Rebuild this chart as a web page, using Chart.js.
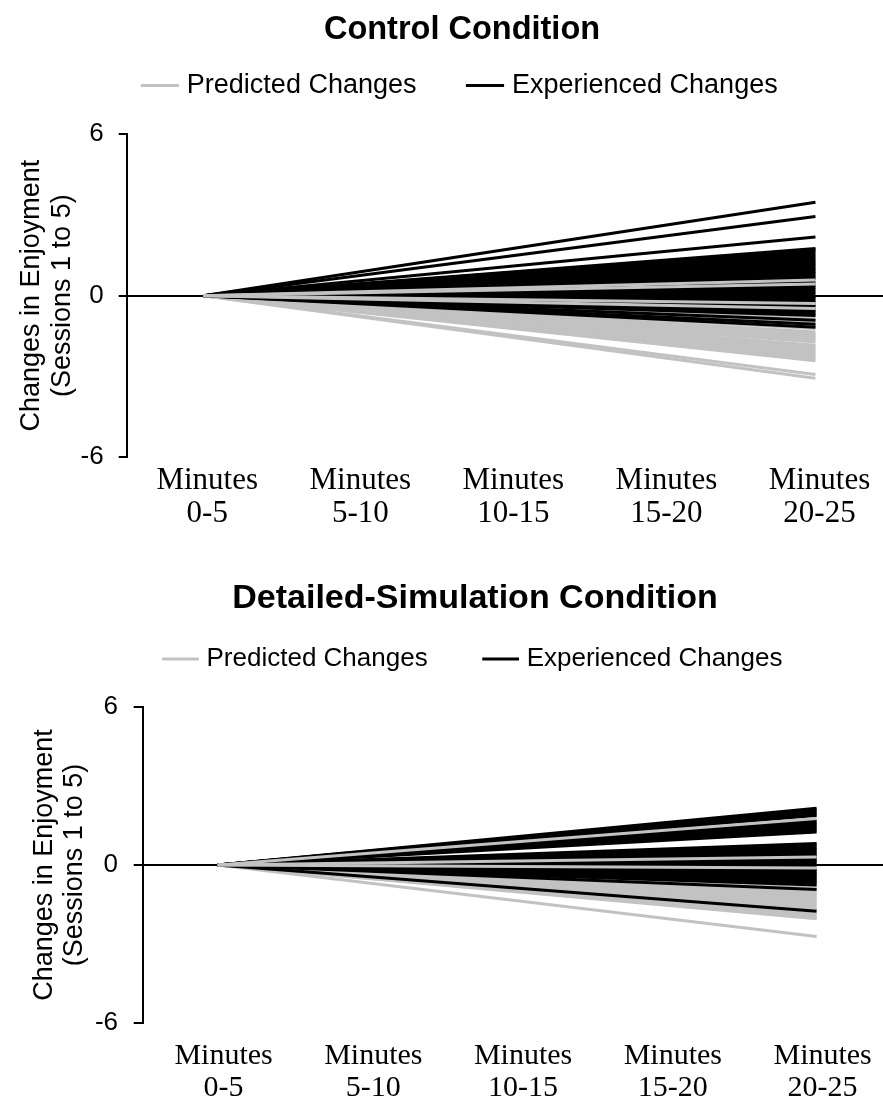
<!DOCTYPE html>
<html><head><meta charset="utf-8">
<script src="https://cdn.jsdelivr.net/npm/chart.js@4.4.0/dist/chart.umd.min.js"></script>
<style>
html,body{margin:0;padding:0;background:#fff;overflow:hidden;width:883px;height:1104px;position:relative;}
canvas{position:absolute;left:0;}
#c1{top:0;} #c2{top:560px;}
</style></head><body>
<canvas id="c1" width="924" height="555"></canvas>
<canvas id="c2" width="950" height="544"></canvas>
<script>
// ---- data ----
const timeCategories = [['Minutes','0-5'],['Minutes','5-10'],['Minutes','10-15'],['Minutes','15-20'],['Minutes','20-25']];
const yTickValues = [-6, 0, 6];
const startChange = 0; // every line starts at 0 at "Minutes 0-5"

// values at "Minutes 20-25"
const controlExperienced = [3.47, 2.94, 2.18, 1.75, 1.70, 1.63, 1.55, 1.47, 1.40, 1.32, 1.25, 1.18, 1.11, 1.04, 0.97, 0.90, 0.83, 0.76, 0.69, 0.63, 0.50, 0.38, 0.30, 0.22, 0.14, 0.06, -0.03, -0.10, -0.17, -0.24, -0.35, -0.42, -0.54, -0.61, -0.68, -0.74, -0.91, -1.06, -1.17];
const controlPredicted = [0.58, 0.43, -0.29, -0.48, -0.80, -0.86, -0.93, -1.00, -1.08, -1.15, -1.22, -1.35, -1.42, -1.50, -1.57, -1.64, -1.72, -1.84, -1.91, -1.98, -2.06, -2.13, -2.21, -2.28, -2.36, -2.42, -2.93, -3.07];

const simulationExperienced = [2.16, 2.09, 2.02, 1.95, 1.88, 1.68, 1.61, 1.54, 1.47, 1.40, 1.33, 1.26, 0.82, 0.75, 0.68, 0.61, 0.54, 0.47, 0.40, 0.33, 0.26, 0.19, 0.12, 0.05, -0.02, -0.18, -0.25, -0.32, -0.39, -0.46, -0.53, -0.60, -0.67, -0.76, -0.93, -1.76];
const simulationPredicted = [1.77, 0.30, -0.11, -0.72, -0.80, -0.86, -1.03, -1.10, -1.17, -1.24, -1.31, -1.38, -1.45, -1.52, -1.60, -1.67, -1.86, -1.93, -2.00, -2.05, -2.72];

// ---- styles ----
const BLACK = '#000000';
const GRAY = '#c2c2c2';
Chart.defaults.font.family = "'Liberation Sans', Arial, sans-serif";
Chart.defaults.color = '#000';

const legendGap = {
  id: 'legendGap',
  beforeLayout(chart) {
    const lg = chart.legend;
    if (lg && !lg._gapPatched) {
      const orig = lg.fit;
      lg.fit = function () { orig.call(this); this.height += (chart.options.plugins.legendGap.gap || 0); };
      lg._gapPatched = true;
    }
  }
};

function lineData(end) { return [startChange, null, null, null, end]; }

function buildDatasets(pred, exp) {
  const common = { borderWidth: 3, pointRadius: 0, pointHoverRadius: 0, spanGaps: true, tension: 0, fill: false, borderCapStyle: 'butt' };
  const ds = [];
  exp.forEach(v => ds.push(Object.assign({ data: lineData(v), borderColor: BLACK, order: 1 }, common)));
  pred.forEach(v => ds.push(Object.assign({ data: lineData(v), borderColor: GRAY, order: v > -0.7 ? 0 : 2 }, common)));
  return ds;
}

function makeChart(id, pred, exp, p) {
  return new Chart(document.getElementById(id), {
    type: 'line',
    data: { labels: timeCategories, datasets: buildDatasets(pred, exp) },
    plugins: [legendGap],
    options: {
      responsive: false, animation: false, devicePixelRatio: 1,
      events: [],
      layout: { padding: { left: 0, right: 0, top: 0, bottom: 0 } },
      plugins: {
        legendGap: { gap: p.legendGap },
        title: { display: true, text: p.title, font: { size: p.titleSize, weight: 'bold', lineHeight: 1 }, color: '#000', padding: { top: p.titlePadTop, bottom: p.titlePadBottom } },
        legend: {
          display: true, position: 'top',
          labels: {
            usePointStyle: true, pointStyle: 'line', boxHeight: p.legendFont, padding: p.legendPad, color: '#000', font: { size: p.legendFont },
            generateLabels: () => [
              { text: 'Predicted Changes', fillStyle: GRAY, strokeStyle: GRAY, lineWidth: 3, pointStyle: 'line', hidden: false, datasetIndex: 0 },
              { text: 'Experienced Changes', fillStyle: BLACK, strokeStyle: BLACK, lineWidth: 3, pointStyle: 'line', hidden: false, datasetIndex: 1 }
            ]
          }
        },
        tooltip: { enabled: false }
      },
      scales: {
        x: {
          type: 'category', offset: true,
          grid: { display: false, drawTicks: false },
          border: { display: false },
          ticks: { font: { family: "'Liberation Serif', 'Times New Roman', serif", size: p.xFont, lineHeight: 1.07 }, color: '#000', padding: p.xPad, labelOffset: p.labelOffset, maxRotation: 0, autoSkip: false },
          afterFit: s => { s.height = p.xHeight; }
        },
        y: {
          min: -6, max: 6,
          afterBuildTicks: s => { s.ticks = yTickValues.map(v => ({ value: v })); },
          grid: {
            drawOnChartArea: true, drawTicks: true, tickLength: p.tickLen, lineWidth: 2,
            color: c => (c.tick && c.tick.value === 0) ? BLACK : 'rgba(0,0,0,0)',
            tickColor: BLACK
          },
          border: { display: true, color: BLACK, width: 2 },
          ticks: { font: { size: 26 }, color: '#000', padding: p.yTickPad },
          title: { display: true, text: ['Changes in Enjoyment', '(Sessions 1 to 5)'], font: { size: 27, lineHeight: p.yTitleLH }, color: '#000', padding: { top: p.yTitlePad, bottom: 0 } },
          afterFit: s => { s.width = p.yWidth; }
        },
        yRightSpace: {
          type: 'linear', position: 'right', display: true,
          grid: { display: false, drawTicks: false },
          border: { display: false },
          ticks: { display: false },
          afterFit: s => { s.width = p.rightSpace; }
        }
      }
    }
  });
}

makeChart('c1', controlPredicted, controlExperienced, {
  title: 'Control Condition', titleSize: 32.5, titlePadTop: 13.75, titlePadBottom: -29.25, legendGap: 25,
  legendFont: 27, legendPad: 55,
  rightSpace: 32, yWidth: 126.7, xHeight: 97.7, xFont: 31, xPad: 7, labelOffset: 4,
  tickLen: 8, yTickPad: 15, yTitlePad: 16, yTitleLH: 1.15
});
makeChart('c2', simulationPredicted, simulationExperienced, {
  title: 'Detailed-Simulation Condition', titleSize: 34, titlePadTop: 22, titlePadBottom: -30, legendGap: 25.3,
  legendFont: 26, legendPad: 60,
  rightSpace: 58.5, yWidth: 142.7, xHeight: 81.3, xFont: 30, xPad: 17, labelOffset: 6,
  tickLen: 9, yTickPad: 15.7, yTitlePad: 29.5, yTitleLH: 1.11
});
</script>
</body></html>
